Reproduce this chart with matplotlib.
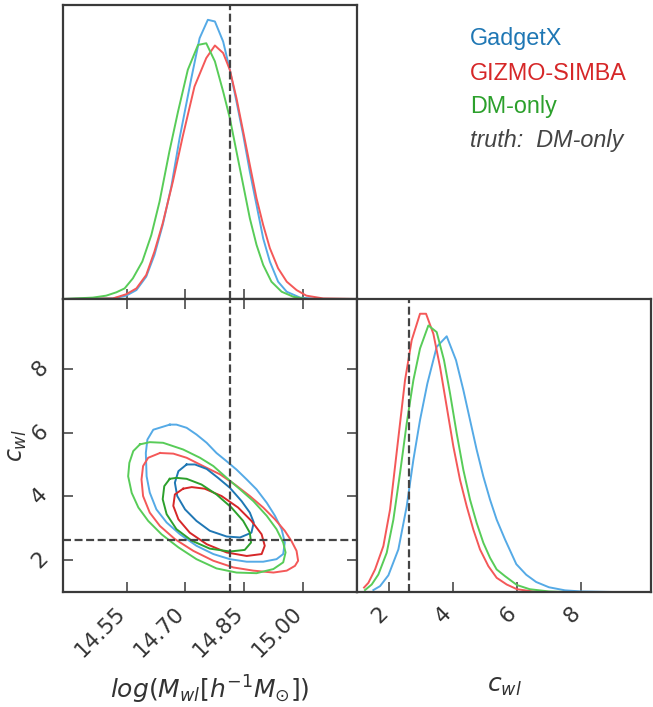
import matplotlib
matplotlib.use('Agg')
import matplotlib.pyplot as plt
from matplotlib.transforms import ScaledTranslation
import numpy as np

# ---------------- data ----------------
mass_truth = 14.813
c_truth = 2.625
mass_ticks = [14.55, 14.70, 14.85, 15.00]
mass_ticklabels = ['14.55', '14.70', '14.85', '15.00']
c_ticks = [2, 4, 6, 8]
c_ticklabels = ['2', '4', '6', '8']
mass_lim = (14.388, 15.137)
c_lim = (1.0, 10.19)

series_names = ['GadgetX', 'GIZMO-SIMBA', 'DM-only']
truth_label = 'truth:  DM-only'

# 1D marginal of log mass (relative density)
mass_gx = [14.388, 14.515, 14.549, 14.575, 14.600, 14.621, 14.642, 14.664, 14.685, 14.715,
           14.736, 14.757, 14.775, 14.796, 14.813, 14.830, 14.847, 14.864, 14.881, 14.898,
           14.915, 14.936, 14.958, 14.992, 15.034, 15.137]
dens_m_gx = [0.0, 0.002, 0.012, 0.032, 0.080, 0.158, 0.265, 0.403, 0.576, 0.791,
             0.934, 1.0, 0.994, 0.922, 0.821, 0.707, 0.588, 0.456, 0.337, 0.217,
             0.134, 0.062, 0.026, 0.005, 0.0, 0.0]
mass_gz = [14.388, 14.515, 14.549, 14.575, 14.600, 14.621, 14.642, 14.668, 14.693, 14.723,
           14.753, 14.775, 14.796, 14.813, 14.830, 14.847, 14.864, 14.881, 14.898, 14.915,
           14.936, 14.958, 14.983, 15.008, 15.051, 15.137]
dens_m_gz = [0.0, 0.002, 0.017, 0.038, 0.086, 0.170, 0.271, 0.421, 0.582, 0.761,
             0.863, 0.908, 0.881, 0.821, 0.719, 0.600, 0.480, 0.361, 0.265, 0.182,
             0.110, 0.062, 0.032, 0.012, 0.002, 0.0]
mass_dm = [14.388, 14.464, 14.498, 14.524, 14.545, 14.566, 14.590, 14.613, 14.634, 14.659,
           14.681, 14.706, 14.732, 14.753, 14.775, 14.796, 14.813, 14.830, 14.847, 14.864,
           14.881, 14.898, 14.919, 14.945, 14.975, 15.008, 15.137]
dens_m_dm = [0.0, 0.005, 0.012, 0.024, 0.038, 0.074, 0.134, 0.229, 0.349, 0.528,
             0.671, 0.821, 0.910, 0.916, 0.851, 0.743, 0.648, 0.528, 0.409, 0.289,
             0.194, 0.122, 0.062, 0.026, 0.008, 0.0, 0.0]

# 1D marginal of concentration (relative density)
c_gx = [1.512, 1.720, 1.981, 2.293, 2.554, 2.762, 2.970, 3.199, 3.491, 3.804,
        4.095, 4.324, 4.533, 4.741, 4.949, 5.158, 5.366, 5.626, 5.98, 6.29,
        6.60, 7.0, 7.5, 8.0, 9.0, 10.19]
dens_c_gx = [0.007, 0.021, 0.060, 0.153, 0.308, 0.475, 0.618, 0.749, 0.881, 0.919,
             0.833, 0.726, 0.618, 0.511, 0.415, 0.332, 0.260, 0.189, 0.100, 0.062,
             0.036, 0.017, 0.006, 0.002, 0.0, 0.0]
c_gz = [1.220, 1.356, 1.564, 1.824, 2.033, 2.189, 2.345, 2.501, 2.710, 2.970,
        3.158, 3.387, 3.595, 3.804, 4.012, 4.220, 4.429, 4.637, 4.845, 5.106,
        5.366, 5.679, 6.0, 6.5, 7.0, 10.19]
dens_c_gz = [0.016, 0.033, 0.081, 0.165, 0.296, 0.451, 0.606, 0.761, 0.905, 1.0,
             1.0, 0.928, 0.809, 0.666, 0.523, 0.403, 0.308, 0.224, 0.153, 0.093,
             0.051, 0.027, 0.010, 0.002, 0.0, 0.0]
c_dm = [1.251, 1.460, 1.668, 1.929, 2.137, 2.345, 2.554, 2.762, 2.970, 3.231,
        3.491, 3.720, 3.908, 4.116, 4.324, 4.533, 4.741, 4.949, 5.158, 5.366,
        5.626, 6.0, 6.4, 7.0, 7.5, 10.19]
dens_c_dm = [0.007, 0.027, 0.063, 0.141, 0.260, 0.427, 0.606, 0.761, 0.875, 0.958,
             0.934, 0.833, 0.714, 0.570, 0.439, 0.332, 0.248, 0.177, 0.123, 0.081,
             0.057, 0.025, 0.010, 0.002, 0.0, 0.0]

# 2D contours (outer = 2 sigma, inner = 1 sigma): (log mass, c) vertices
gx_outer_m = [14.660, 14.618, 14.603, 14.599, 14.601, 14.609, 14.626, 14.652, 14.686, 14.728,
              14.771, 14.813, 14.856, 14.898, 14.932, 14.949, 14.953, 14.945, 14.928, 14.907,
              14.881, 14.856, 14.830, 14.805, 14.779, 14.754, 14.728, 14.703, 14.677]
gx_outer_c = [6.25, 6.09, 5.78, 5.36, 4.63, 4.12, 3.59, 3.18, 2.81, 2.45,
              2.19, 2.03, 1.95, 1.95, 2.03, 2.19, 2.55, 2.97, 3.39, 3.80,
              4.22, 4.53, 4.84, 5.10, 5.36, 5.68, 5.94, 6.15, 6.25]
gz_outer_m = [14.635, 14.605, 14.592, 14.588, 14.592, 14.609, 14.635, 14.673, 14.720, 14.771,
              14.822, 14.873, 14.924, 14.958, 14.979, 14.987, 14.983, 14.970, 14.953, 14.928,
              14.898, 14.864, 14.826, 14.788, 14.745, 14.703, 14.669]
gz_outer_c = [5.36, 5.21, 4.95, 4.53, 4.01, 3.49, 3.07, 2.66, 2.29, 1.98,
              1.77, 1.67, 1.61, 1.67, 1.82, 1.98, 2.29, 2.60, 2.92, 3.28,
              3.65, 4.01, 4.37, 4.69, 4.95, 5.21, 5.34]
dm_outer_m = [14.584, 14.567, 14.557, 14.554, 14.563, 14.580, 14.605, 14.639, 14.682, 14.728,
              14.779, 14.830, 14.881, 14.924, 14.949, 14.955, 14.949, 14.932, 14.907, 14.873,
              14.839, 14.805, 14.771, 14.737, 14.694, 14.643, 14.609]
dm_outer_c = [5.63, 5.42, 5.05, 4.63, 4.11, 3.65, 3.23, 2.81, 2.40, 2.03,
              1.74, 1.61, 1.59, 1.72, 1.93, 2.24, 2.55, 2.97, 3.39, 3.85,
              4.22, 4.58, 4.95, 5.21, 5.47, 5.68, 5.70]
gx_inner_m = [14.703, 14.682, 14.673, 14.679, 14.699, 14.728, 14.762, 14.805, 14.839, 14.868,
              14.874, 14.864, 14.843, 14.813, 14.783, 14.754, 14.724]
gx_inner_c = [5.00, 4.79, 4.43, 4.01, 3.59, 3.23, 2.92, 2.74, 2.71, 2.86,
              3.18, 3.49, 3.85, 4.27, 4.58, 4.86, 5.00]
gz_inner_m = [14.694, 14.673, 14.669, 14.682, 14.711, 14.754, 14.805, 14.856, 14.894, 14.902,
              14.894, 14.868, 14.834, 14.792, 14.749, 14.716]
gz_inner_c = [4.24, 4.06, 3.70, 3.28, 2.86, 2.50, 2.24, 2.13, 2.19, 2.45,
              2.81, 3.23, 3.65, 4.01, 4.24, 4.29]
dm_inner_m = [14.660, 14.646, 14.642, 14.652, 14.677, 14.716, 14.762, 14.813, 14.851, 14.867,
              14.864, 14.847, 14.817, 14.779, 14.741, 14.703, 14.677]
dm_inner_c = [4.55, 4.32, 3.91, 3.44, 2.97, 2.61, 2.36, 2.27, 2.32, 2.55,
              2.86, 3.23, 3.65, 4.06, 4.37, 4.55, 4.58]

# ---------------- style ----------------
dark = ['#1f77b4', '#d62728', '#2ca02c']
light = ['#55aae6', '#f45858', '#58cc58']
spine_col = '#3a3a3a'
truth_col = '#444444'
label_col = '#333333'
plt.rcParams['mathtext.fontset'] = 'dejavusans'
plt.rcParams['font.family'] = ['DejaVu Sans']

W, H = 653, 707
fig = plt.figure(figsize=(W / 100, H / 100), dpi=100)

def rect(x0, y0, x1, y1):
    return [x0 / W, 1 - y1 / H, (x1 - x0) / W, (y1 - y0) / H]

ax_m = fig.add_axes(rect(63, 5, 357, 299))
ax_2d = fig.add_axes(rect(63, 299, 357, 592))
ax_c = fig.add_axes(rect(357, 299, 651, 592))

lw = 1.4
ts = (0, (3.6, 1.6))
tlw = 1.6
tick_fs = 15.5

def closed(a):
    return list(a) + [a[0]]

# top-left: mass marginal
for xs, ys, col in [(mass_gx, dens_m_gx, light[0]), (mass_gz, dens_m_gz, light[1]),
                    (mass_dm, dens_m_dm, light[2])]:
    ax_m.plot(xs, ys, color=col, lw=lw)
ax_m.axvline(mass_truth, color=truth_col, ls=ts, lw=tlw)
ax_m.set_xlim(*mass_lim)
ax_m.set_ylim(0, 1.053)
ax_m.set_yticks([])
ax_m.set_xticks(mass_ticks)
ax_m.set_xticklabels([])
ax_m.tick_params(axis='x', direction='in', length=7, width=1.1, color=spine_col,
                 bottom=True, top=False)

# bottom-left: 2D contours
outer = [(gx_outer_m, gx_outer_c), (gz_outer_m, gz_outer_c), (dm_outer_m, dm_outer_c)]
inner = [(gx_inner_m, gx_inner_c), (gz_inner_m, gz_inner_c), (dm_inner_m, dm_inner_c)]
for i, (xm, yc) in enumerate(outer):
    ax_2d.plot(closed(xm), closed(yc), color=light[i], lw=lw, solid_joinstyle='round')
for i, (xm, yc) in enumerate(inner):
    ax_2d.plot(closed(xm), closed(yc), color=dark[i], lw=lw, solid_joinstyle='round')
ax_2d.axvline(mass_truth, color=truth_col, ls=ts, lw=tlw)
ax_2d.axhline(c_truth, color=truth_col, ls=ts, lw=tlw)
ax_2d.set_xlim(*mass_lim)
ax_2d.set_ylim(*c_lim)
ax_2d.set_xticks(mass_ticks)
ax_2d.set_xticklabels(mass_ticklabels, rotation=45, ha='right')
ax_2d.set_yticks(c_ticks)
ax_2d.set_yticklabels(c_ticklabels, rotation=45, va='center')
ax_2d.tick_params(direction='in', length=7, width=1.1, color=spine_col,
                  labelcolor=label_col, labelsize=tick_fs, pad=8,
                  top=True, right=True, bottom=True, left=True)
ax_2d.set_xlabel(r'$log(M_{wl}[h^{-1}M_{\odot}])$', fontsize=18, color=label_col)
ax_2d.xaxis.set_label_coords(0.5, -0.28)
ax_2d.set_ylabel(r'$c_{wl}$', fontsize=17, color=label_col)
ax_2d.yaxis.set_label_coords(-0.115, 0.5)

# bottom-right: concentration marginal
for xs, ys, col in [(c_gx, dens_c_gx, light[0]), (c_gz, dens_c_gz, light[1]),
                    (c_dm, dens_c_dm, light[2])]:
    ax_c.plot(xs, ys, color=col, lw=lw)
ax_c.axvline(c_truth, color=truth_col, ls=ts, lw=tlw)
ax_c.set_xlim(*c_lim)
ax_c.set_ylim(0, 1.053)
ax_c.set_yticks([])
ax_c.set_xticks(c_ticks)
ax_c.set_xticklabels(c_ticklabels, rotation=45, ha='right')
ax_c.tick_params(axis='x', direction='in', length=7, width=1.1, color=spine_col,
                 labelcolor=label_col, labelsize=tick_fs, pad=8, bottom=True, top=False)
ax_c.set_xlabel(r'$c_{wl}$', fontsize=18, color=label_col)
ax_c.xaxis.set_label_coords(0.5, -0.28)

shift = ScaledTranslation(3 / 100, 0, fig.dpi_scale_trans)
for lab in ax_2d.get_xticklabels() + ax_c.get_xticklabels():
    lab.set_transform(lab.get_transform() + shift)

for ax in (ax_m, ax_2d, ax_c):
    for s in ax.spines.values():
        s.set_color(spine_col)
        s.set_linewidth(1.6)

# legend as text
leg_y = [38, 73, 107, 141]
for name, col, yy in zip(series_names, dark, leg_y):
    fig.text(470 / W, 1 - yy / H, name, color=col, fontsize=16.8, va='center', ha='left',
             family=['Liberation Sans'])
fig.text(470 / W, 1 - leg_y[3] / H, truth_label, color='#444444', fontsize=16.8, va='center',
         ha='left', style='italic', family=['Liberation Sans'])

fig.savefig('out.png', dpi=100)
